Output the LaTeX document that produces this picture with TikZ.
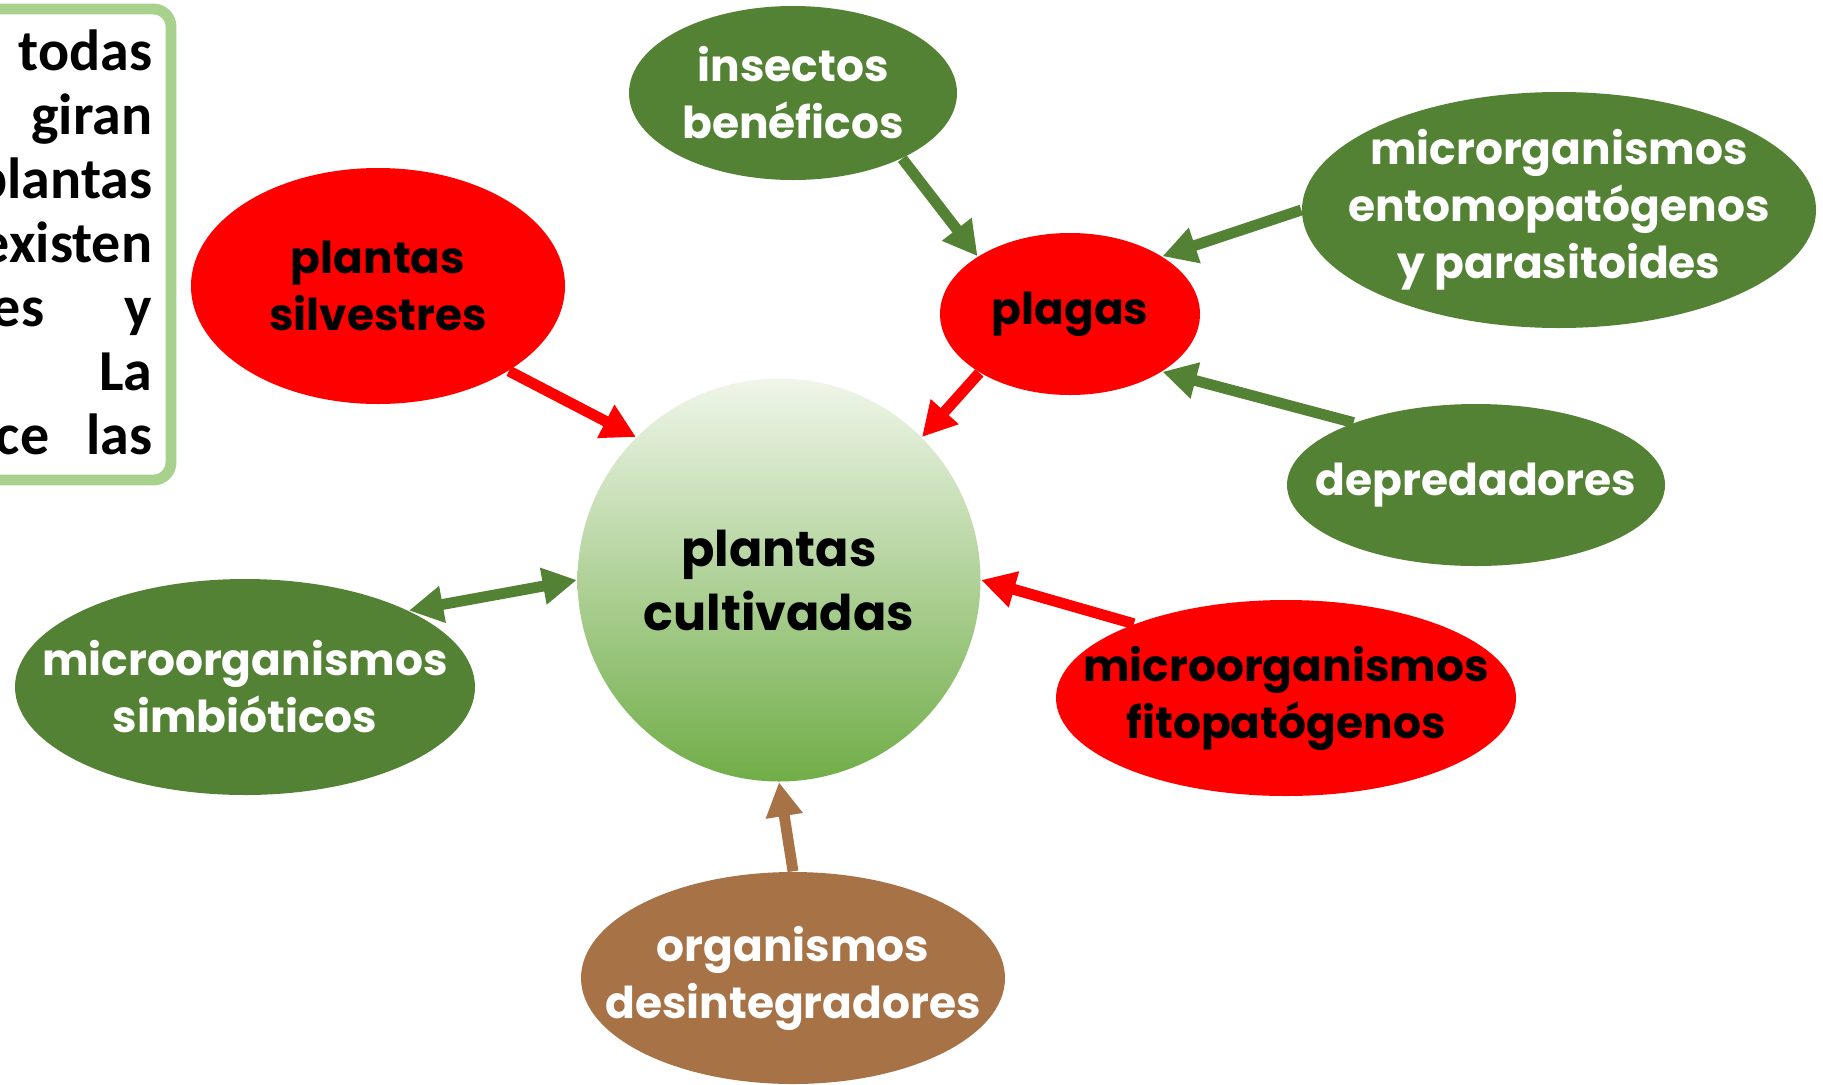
\documentclass[tikz,border=0pt]{standalone}
\usepackage{fontspec}
\newfontfamily\gothic{Poppins}
\newfontfamily\calibri{Carlito}
\usetikzlibrary{shapes.geometric, arrows.meta}

\definecolor{rojo}{RGB}{255,0,0}
\definecolor{verde}{RGB}{84,130,53}
\definecolor{cafe}{RGB}{166,114,70}
\definecolor{marco}{RGB}{169,209,142}
\definecolor{claro}{RGB}{240,246,234}
\definecolor{medio}{RGB}{170,208,142}
\definecolor{oscuro}{RGB}{112,173,71}

\begin{document}
\begin{tikzpicture}[
    x=0.1mm, y=-0.1mm,
    >={Triangle[length=9.7pt, width=10pt]},
    bubble/.style={ellipse, inner sep=0pt},
    wtext/.style={align=center, text=white, font=\gothic\bfseries\fontsize{12.5}{16.2}\selectfont},
    btext/.style={wtext, text=black},
    parr/.style={anchor=base east, inner sep=0pt, font=\calibri\bfseries\fontsize{16.5}{18}\selectfont},
    link/.style={->, line width=3.1pt}
  ]
  \useasboundingbox (0,0) rectangle (1823,1084);
  \clip (0,0) rectangle (1823,1084);

  % 左上角的文字框
  \draw[marco, line width=3.1pt, rounded corners=5pt, fill=white] (-40,9) rectangle (171,480);
  \node[parr] (w1) at (153,70) {todas};
  \node[parr] (w2) at (153,134) {giran};
  \node[parr] (w3) at (153,198) {plantas};
  \node[parr] (w4) at (153,262) {existen};
  \node[parr] (w5a) at (45,326) {es};
  \node[parr] (w5b) at (153,326) {y};
  \node[parr] (w6) at (153,390) {La};
  \node[parr] (w7a) at (50,454) {ce};
  \node[parr] (w7b) at (153,454) {las};

  % 中心节点
  \node[circle, minimum size=40.3mm, inner sep=0pt, top color=claro, middle color=medio, bottom color=oscuro,
        align=center, font=\gothic\bfseries\fontsize{14}{18.2}\selectfont] (centro) at (779,580) {plantas\\cultivadas};

  % 周围的椭圆
  \node[bubble, fill=rojo, minimum width=37.4mm, minimum height=23.6mm,
        label={[btext]center:{plantas\\silvestres}}] (silvestres) at (378,286) {};
  \node[bubble, fill=verde, minimum width=32.8mm, minimum height=17.4mm,
        label={[wtext]center:{insectos\\benéficos}}] (insectos) at (793,93) {};
  \node[bubble, fill=rojo, minimum width=26mm, minimum height=16.2mm,
        label={[btext]center:plagas}] (plagas) at (1070,314) {};
  \node[bubble, fill=verde, minimum width=51.4mm, minimum height=23.6mm,
        label={[wtext]center:{microrganismos\\entomopatógenos\\y parasitoides}}] (entomo) at (1559,210) {};
  \node[bubble, fill=verde, minimum width=37.8mm, minimum height=16.2mm,
        label={[wtext]center:depredadores}] (depredadores) at (1476,485) {};
  \node[bubble, fill=rojo, minimum width=46mm, minimum height=19.6mm,
        label={[btext]center:{microorganismos\\fitopatógenos}}] (fito) at (1286,698) {};
  \node[bubble, fill=cafe, minimum width=42.4mm, minimum height=21.2mm,
        label={[wtext]center:{organismos\\desintegradores}}] (desint) at (793,978) {};
  \node[bubble, fill=verde, minimum width=46mm, minimum height=21.6mm,
        label={[wtext]center:{microorganismos\\simbióticos}}] (simbio) at (245,687) {};

  % 箭头
  \draw[link, rojo] (silvestres.-33) -- (centro.135);
  \draw[link, verde] (insectos.-31) -- (plagas.148);
  \draw[link, verde] (entomo.180) -- (plagas.32);
  \draw[link, verde] (depredadores.153) -- (plagas.-32);
  \draw[link, rojo] (plagas.-147) -- (centro.45);
  \draw[link, rojo] (fito.154) -- (centro.0);
  \draw[link, cafe] (desint.90) -- (centro.-90);
  \draw[link, verde, <->] (simbio.25) -- (centro.180);

\end{tikzpicture}
\end{document}
